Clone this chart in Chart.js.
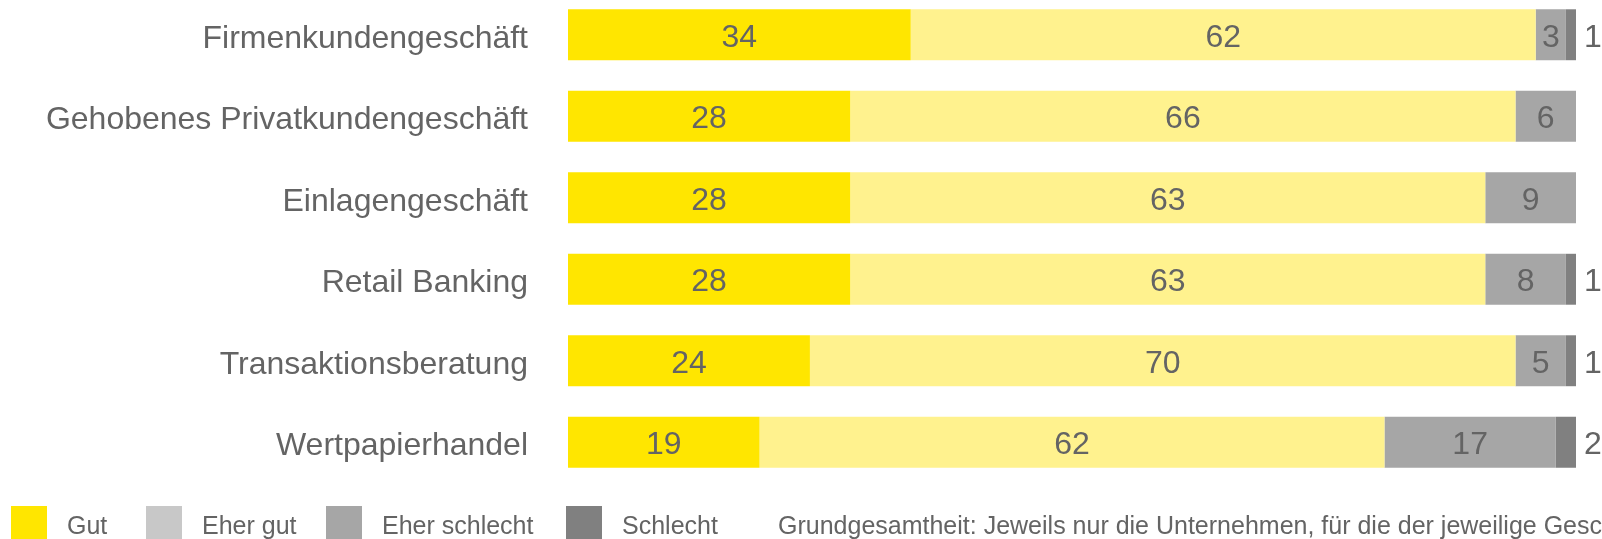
<!DOCTYPE html>
<html>
<head>
<meta charset="utf-8">
<script src="https://cdn.jsdelivr.net/npm/chart.js@4.4.1/dist/chart.umd.min.js"></script>
<style>
    html, body { margin: 0; padding: 0; background: #fff; overflow: hidden; }
    body { width: 1602px; height: 539px; position: relative; }
    #wrap { position: absolute; left: 0; top: -26px; width: 1602px; height: 580px; }
</style>
</head>
<body>
<div id="wrap"><canvas id="chart"></canvas></div>
<script>
// Data
const categories = [
    'Firmenkundengeschäft',
    'Gehobenes Privatkundengeschäft',
    'Einlagengeschäft',
    'Retail Banking',
    'Transaktionsberatung',
    'Wertpapierhandel'
];
const gut = [34, 28, 28, 28, 24, 19];
const eherGut = [62, 66, 63, 63, 70, 62];
const eherSchlecht = [3, 6, 9, 8, 5, 17];
const schlecht = [1, 0, 0, 1, 1, 2];

const seriesNames = ['Gut', 'Eher gut', 'Eher schlecht', 'Schlecht'];
const barColors = ['#FFE600', '#FFF28E', '#A6A6A6', '#808080'];
const legendColors = ['#FFE600', '#C8C8C8', '#A6A6A6', '#808080'];
const footnote = 'Grundgesamtheit: Jeweils nur die Unternehmen, für die der jeweilige Geschäftsbereich relevant ist';

const textColor = '#646464';
const fontFamily = 'Arial, "Liberation Sans", sans-serif';

// value labels inside the bars, "Schlecht" outside at the right
const valueLabels = {
    id: 'valueLabels',
    afterDatasetsDraw(chart) {
        const ctx = chart.ctx;
        const area = chart.chartArea;
        ctx.save();
        ctx.fillStyle = textColor;
        ctx.font = '32px ' + fontFamily;
        ctx.textBaseline = 'middle';
        chart.data.datasets.forEach((ds, di) => {
            const meta = chart.getDatasetMeta(di);
            meta.data.forEach((bar, i) => {
                const v = ds.data[i];
                if (!v) return;
                if (di === 3) {
                    ctx.textAlign = 'left';
                    ctx.fillText(v, area.right + 8, bar.y + 3);
                } else {
                    ctx.textAlign = 'center';
                    ctx.fillText(v, (bar.x + bar.base) / 2, bar.y + 3);
                }
            });
        });
        ctx.restore();
    }
};

// legend row + footnote at the bottom
const bottomLegend = {
    id: 'bottomLegend',
    afterDraw(chart) {
        const ctx = chart.ctx;
        const boxX = [11, 146, 326, 566];
        const top = 532;
        const baseline = 560;
        ctx.save();
        ctx.font = '25px ' + fontFamily;
        ctx.textBaseline = 'alphabetic';
        ctx.textAlign = 'left';
        seriesNames.forEach((name, i) => {
            ctx.fillStyle = legendColors[i];
            ctx.fillRect(boxX[i], top, 36, 40);
            ctx.fillStyle = textColor;
            ctx.fillText(name, boxX[i] + 56, baseline);
        });
        ctx.fillText(footnote, 778, baseline);
        ctx.restore();
    }
};

const datasets = [gut, eherGut, eherSchlecht, schlecht].map((vals, i) => ({
    label: seriesNames[i],
    data: vals,
    backgroundColor: barColors[i],
    borderWidth: 0,
    barPercentage: 0.625,
    categoryPercentage: 1
}));

new Chart(document.getElementById('chart'), {
    type: 'bar',
    data: { labels: categories, datasets: datasets },
    options: {
        indexAxis: 'y',
        responsive: true,
        maintainAspectRatio: false,
        animation: false,
        layout: { padding: { top: 20, bottom: 71, left: 0, right: 26 } },
        plugins: {
            legend: { display: false },
            tooltip: { enabled: false }
        },
        scales: {
            x: {
                stacked: true,
                min: 0,
                max: 100,
                display: false
            },
            y: {
                stacked: true,
                grid: {
                    display: true,
                    drawOnChartArea: false,
                    drawTicks: true,
                    tickLength: 40,
                    color: 'rgba(0,0,0,0)'
                },
                border: { display: false },
                ticks: {
                    color: textColor,
                    font: { size: 32, family: fontFamily, lineHeight: 1 },
                    padding: 0,
                    labelOffset: 4
                },
                afterFit(scale) { scale.width = 568; }
            }
        }
    },
    plugins: [valueLabels, bottomLegend]
});
</script>
</body>
</html>
